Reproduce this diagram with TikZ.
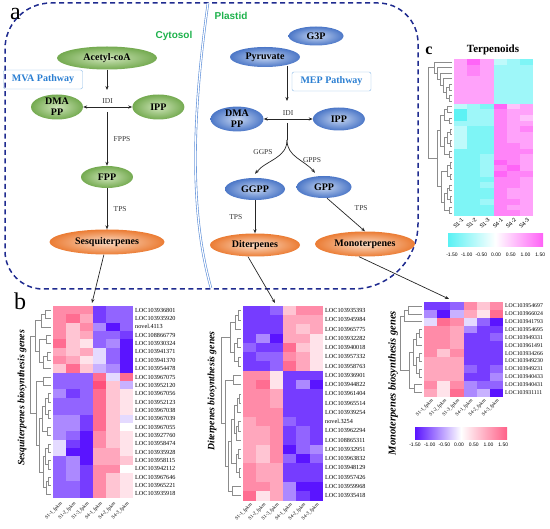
\documentclass[tikz,border=0pt]{standalone}
\usepackage{fontspec}
\setmainfont{Liberation Serif}
\setsansfont{Liberation Sans}
\usetikzlibrary{arrows.meta,positioning,shapes.geometric}

\definecolor{wallblue}{HTML}{1F2B8F}
\definecolor{plastblue}{HTML}{5C8ED8}
\definecolor{compgreen}{HTML}{1DB14B}
\definecolor{pathblue}{HTML}{2B7FD2}
\definecolor{greenout}{HTML}{74AA50}
\definecolor{greenin}{HTML}{CFE5BA}
\definecolor{blueout}{HTML}{4C77C7}
\definecolor{bluein}{HTML}{C6D6F1}
\definecolor{orangeout}{HTML}{EB7C34}
\definecolor{orangein}{HTML}{FBDCC6}
\definecolor{hmlow}{HTML}{5A14FF}
\definecolor{hmhigh}{HTML}{FF4F7B}
\definecolor{tplow}{HTML}{3CEFF2}
\definecolor{tphigh}{HTML}{FF45F5}

% cells: x0, y0, cell width, row height, low colour, high colour, rows (values -6..6)
\newcommand{\heatmap}[7]{%
  \foreach \rowvals [count=\r] in {#7} {
    \foreach \v [count=\c] in \rowvals {
      \pgfmathtruncatemacro{\pct}{abs(\v)*100/6}
      \ifnum\v<0 \def\hmc{#5}\else\def\hmc{#6}\fi
      \fill[\hmc!\pct!white] ({#1+(\c-1)*#3},{#2+(\r-1)*#4}) rectangle ++({#3+0.3},{#4+0.3});
    }
  }}

% tree: leaf x, top y, row height, brackets ya/da/yb/db/dl
\newcommand{\dendro}[4]{%
  \foreach \ya/\da/\yb/\db/\dl in {#4}
    \draw[dendline] ({#1-\da},{#2+\ya*#3}) -- ({#1-\dl},{#2+\ya*#3})
      -- ({#1-\dl},{#2+\yb*#3}) -- ({#1-\db},{#2+\yb*#3});}

% gene names: x, top y, row height, names
\newcommand{\genelabels}[4]{%
  \foreach \g [count=\r] in {#4}
    \node[genelab] at (#1,{#2+(\r-0.5)*#3}) {\g};}

\begin{document}
\begin{tikzpicture}[x=1pt, y=-1pt, >={Stealth[length=4pt,width=3.2pt]},
    metab/.style = {ellipse, inner sep=0pt, align=center, font=\bfseries\fontsize{10}{11}\selectfont},
    mva/.style = {metab, inner color=greenin, outer color=greenout},
    mep/.style = {metab, inner color=bluein, outer color=blueout},
    prod/.style = {metab, inner color=orangein, outer color=orangeout},
    pathbox/.style = {draw=pathblue!55, rounded corners=2pt, fill=white, text=pathblue, inner sep=0pt,
        minimum width=79pt, minimum height=19pt, font=\bfseries\fontsize{10}{12}\selectfont},
    enz/.style = {text=black!80, font=\fontsize{7.5}{8}\selectfont},
    comp/.style = {text=compgreen, font=\sffamily\bfseries\fontsize{10}{12}\selectfont},
    cellwall/.style = {draw=wallblue, line width=1.5pt, dash pattern=on 5pt off 3.5pt},
    plastwall/.style = {draw=plastblue, double=white, double distance=1.2pt, line width=0.6pt},
    conn/.style = {->, black!85, line width=0.7pt},
    dendline/.style = {black!45, line width=0.45pt},
    genelab/.style = {anchor=west, inner sep=0pt, font=\fontsize{6.2}{6.2}\selectfont},
    collab/.style = {anchor=east, rotate=45, inner sep=0pt, font=\fontsize{4.9}{4.9}\selectfont},
    axlab/.style = {rotate=90, font=\bfseries\itshape\fontsize{9.7}{10}\selectfont},
    ticklab/.style = {inner sep=0pt, font=\sffamily\fontsize{5}{5}\selectfont},
    panel/.style = {anchor=base, font=\fontsize{24}{24}\selectfont}]

\useasboundingbox (0,0) rectangle (550,529);

% panel a: cell
\node[pathbox] (mvabox) at (43,79.5) {MVA Pathway};
\draw[cellwall] (5,150) [rounded corners=38pt] -- (5,289) -- (200,289)
    [rounded corners=65pt] -- (418,289) -- (418,150)
    [rounded corners=40pt] -- (418,3) -- (200,3)
    [rounded corners=46pt] -- (5,3) -- (5,150);
\draw[plastwall] (208,3) .. controls (196,90) and (186,200) .. (211,288);
\node[panel] (pa) at (15.5,20) {a};
\node[comp] (cyto) at (174,36) {Cytosol};
\node[comp] (plast) at (231,16) {Plastid};

% MVA side
\node[mva, minimum width=100pt, minimum height=23pt] (acoa) at (107,58) {Acetyl-coA};
\node[mva, minimum width=52pt, minimum height=25pt] (dmapp1) at (57,107) {DMA\\PP};
\node[mva, minimum width=52pt, minimum height=25pt] (ipp1) [right=49pt of dmapp1] {IPP};
\node[mva, minimum width=52pt, minimum height=22pt] (fpp) at (107,177) {FPP};
\node[prod, minimum width=115pt, minimum height=25pt] (sesq) at (107,242) {Sesquiterpenes};
\coordinate (idi1) at (107,90);
\coordinate (fpps1) at (107,112);

\draw[conn] (acoa) -- (idi1);
\draw[conn, <->] (dmapp1) -- node[enz, above] {IDI} (ipp1);
\draw[conn] (fpps1) -- node[enz, right, xshift=3pt] {FPPS} (fpp);
\draw[conn] (fpp) -- node[enz, right, xshift=3pt] {TPS} (sesq);

% MEP side
\node[mep, minimum width=55pt, minimum height=19pt] (g3p) at (316,36) {G3P};
\node[mep, minimum width=70pt, minimum height=20pt] (pyr) at (265,57) {Pyruvate};
\node[pathbox] (mepbox) at (331.5,81.5) {MEP Pathway};
\node[mep, minimum width=53pt, minimum height=24pt] (dmapp2) at (237,119) {DMA\\PP};
\node[mep, minimum width=52pt, minimum height=23pt] (ipp2) [right=49pt of dmapp2] {IPP};
\node[mep, minimum width=60pt, minimum height=22pt] (ggpp) at (255,189) {GGPP};
\node[mep, minimum width=55pt, minimum height=22pt] (gpp) at (324,187) {GPP};
\node[prod, minimum width=90pt, minimum height=23pt] (dite) at (255,245) {Diterpenes};
\node[prod, minimum width=100pt, minimum height=25pt] (mono) at (365,244) {Monoterpenes};
\coordinate (mep0) at (287,66);
\coordinate (mep1) at (287,101);
\coordinate (br0) at (287,123);
\coordinate (br1) at (287,140);

\draw[conn] (mep0) -- (mep1);
\draw[conn, <->] (dmapp2) -- node[enz, above] {IDI} (ipp2);
\draw[black!85, line width=0.7pt] (br0) -- (br1);
\draw[conn] (br1) to[out=-90, in=50] ([yshift=4pt]ggpp.north);
\draw[conn] (br1) to[out=-90, in=130] ([xshift=-9pt, yshift=3pt]gpp.north);
\node[enz] (ggps) at (263,152) {GGPS};
\node[enz] (gpps) at (312,160) {GPPS};
\draw[conn] (ggpp) -- node[enz, left=9pt] {TPS} (dite);
\draw[conn] ([xshift=3pt]gpp.south) -- node[enz, above right, xshift=5pt] {TPS} (mono.north);

% panel b
\node[panel] (pb) at (20,310) {b};
\coordinate (sesqhm) at (92,303);
\coordinate (ditehm) at (275,303);
\coordinate (monohm) at (449,299);
\draw[conn] (sesq) -- (sesqhm);
\draw[conn] ([xshift=-7pt]dite.south) -- (ditehm);
\draw[conn] ([xshift=-6pt]mono.south) -- (monohm);

% sesquiterpenes
\heatmap{53}{306}{13.33}{8.35}{hmlow}{hmhigh}{
  {4,4,4,-5,-4,-4},{4,5,3,-5,-4,-4},{4,2,4,-3,-6,-4},{4,2,3,-4,-4,-5},
  {5,2,1,-4,-3,-6},{3,2,3,-1,-4,-6},{4,3,1,-1,-4,-6},{2,5,2,-2,-3,-6},
  {-4,-4,-4,5,-1,5},{-4,-4,-4,6,2,-2},{-3,-5,-4,5,2,1},{-4,-4,-4,5,2,1},
  {-4,-4,-4,5,2,1},{-3,-3,-5,5,2,-1},{-3,-3,-5,5,2,0},{-3,-4,-6,4,2,1},
  {-1,-5,-6,4,2,1},{-1,-6,-6,3,3,1},{-4,-3,-6,3,3,2},{-4,-3,-5,4,4,0},
  {-4,-3,-5,4,2,1},{-4,-4,-5,4,2,1},{-4,-4,-5,4,2,1}}
\dendro{51}{306}{8.35}{0.5/0/1.5/0/6, 1/6/2.5/0/10, 3.5/0/4.5/0/5, 5.5/0/6.5/0/4,
  6/4/7.5/0/8, 4/5/6.75/8/12, 1.75/10/5.375/12/16, 8.5/0/9.5/0/8, 10.5/0/11.5/0/3,
  12.5/0/13.5/0/3, 11/3/13/3/6, 14.5/0/15.5/0/4, 12/6/15/4/9, 16.5/0/17.5/0/3,
  18.5/0/19.5/0/3, 17/3/19/3/6, 20.5/0/21.5/0/3, 21/3/22.5/0/5, 18/6/21.75/5/8,
  13.5/9/19.875/8/12, 9/8/16.6875/12/15, 3.5625/16/12.84375/15/21}
\genelabels{135}{306}{8.35}{LOC103936801, LOC103935920, novel.4113, LOC108866779,
  LOC103930324, LOC103941371, LOC103941370, LOC103954478, LOC103967075, LOC103952120,
  LOC103967056, LOC103952123, LOC103967038, LOC103967039, LOC103967055, LOC103927760,
  LOC103958474, LOC103935928, LOC103958115, LOC103942112, LOC103967646, LOC103965221,
  LOC103935918}
\foreach \s [count=\i] in {S1-1,S1-2,S1-3,S4-1,S4-2,S4-3}
  \node[collab] at ({53+(\i-0.5)*13.33+2},503) {\s\_fpkm};
\node[axlab] (sesqax) at (22,398) {Sesquiterpenes biosynthesis genes};

% diterpenes
\heatmap{243}{306}{13.33}{9.25}{hmlow}{hmhigh}{
  {-5,-5,-4,2,4,4},{-5,-5,-5,3,3,3},{-5,-5,-5,3,2,3},{-5,-3,-6,3,3,1},
  {-4,-5,-5,5,2,1},{-5,-4,-4,4,3,1},{-5,-5,-4,5,3,1},
  {4,4,1,-5,-5,-5},{4,5,1,-5,-3,-6},{4,4,3,-5,-5,-5},{4,4,3,-5,-5,-5},
  {4,4,4,-5,-5,-5},{3,4,4,-4,-5,-5},{3,3,4,-5,-4,-5},{3,3,4,-5,-4,-5},
  {3,2,4,-6,-4,-3},{3,2,4,-4,-6,-4},{4,3,3,-5,-5,-5},{4,3,3,-5,-5,-5},
  {4,4,3,-3,-6,-6},{5,1,3,-3,-5,-6}}
\dendro{241}{306}{9.25}{0.5/0/1.5/0/3, 1/3/2.5/0/6, 3.5/0/4.5/0/4, 5.5/0/6.5/0/3,
  4/4/6/3/7, 1.75/6/5/7/11, 7.5/0/8.5/0/8, 9.5/0/10.5/0/2, 10/2/11.5/0/4,
  12.5/0/13.5/0/3, 13/3/14.5/0/5, 15.5/0/16.5/0/3, 17.5/0/18.5/0/2, 16/3/18/2/5,
  10.75/4/13.75/5/7, 12.25/7/17/5/10, 19.5/0/20.5/0/9, 14.625/10/20/9/13,
  8/8/17.3125/13/16, 3.375/11/12.65625/16/20}
\genelabels{325}{306}{9.25}{LOC103935393, LOC103945984, LOC103965775, LOC103932282,
  LOC103940018, LOC103957332, LOC103958763, LOC103936901, LOC103944822, LOC103961404,
  LOC103965514, LOC103939254, novel.3254, LOC103962294, LOC108865311, LOC103932951,
  LOC103963832, LOC103948129, LOC103957426, LOC103959968, LOC103935418}
\foreach \s [count=\i] in {S1-1,S1-2,S1-3,S4-1,S4-2,S4-3}
  \node[collab] at ({243+(\i-0.5)*13.33+2},504) {\s\_fpkm};
\node[axlab] (diteax) at (212,391) {Diterpenes biosynthesis genes};

% monoterpenes
\heatmap{424}{302}{13.17}{7.87}{hmlow}{hmhigh}{
  {-5,-5,-4,4,2,4},{-3,-6,-2,3,1,5},{-1,5,4,-1,-4,-6},{4,4,3,-3,-5,-5},
  {4,4,3,-5,-5,-4},{4,4,3,-5,-5,-5},{4,2,4,-5,-5,-5},{3,3,3,-5,-5,-5},
  {3,3,3,-4,-5,-4},{3,3,3,-5,-5,-3},{4,1,4,-3,-4,-4},{3,1,5,-3,-2,-6}}
\dendro{422}{302}{7.87}{0.5/0/1.5/0/14, 1/14/2.5/0/18, 3.5/0/4.5/0/3, 4/3/5.5/0/6,
  6.5/0/7.5/0/3, 8.5/0/9.5/0/3, 7/3/9/3/6, 4.75/6/8/6/9, 10.5/0/11.5/0/8,
  6.375/9/11/8/13, 1.75/18/8.6875/13/22}
\begin{scope}[genelab/.append style={font=\fontsize{5.8}{5.8}\selectfont}]
\genelabels{505}{302}{7.87}{LOC103954697, LOC103966024, LOC103941793, LOC103954695,
  LOC103949331, LOC103961491, LOC103934266, LOC103949230, LOC103949231, LOC103940433,
  LOC103940431, LOC103931111}
\end{scope}
\foreach \s [count=\i] in {S1-1,S1-2,S1-3,S4-1,S4-2,S4-3}
  \node[collab] at ({424+(\i-0.5)*13.17+2},400) {\s\_fpkm};
\node[axlab, font=\bfseries\itshape\fontsize{10.5}{11}\selectfont] (monoax) at (393,383) {Monoterpenes biosynthesis genes};
\shade[left color=hmlow, right color=hmhigh!90, middle color=white] (415,428) rectangle (507,440);
\foreach \t [count=\i from 0] in {-1.50,-1.00,-0.50,0.00,0.50,1.00,1.50}
  \node[ticklab] at ({415+\i*14.7},445) {\t};

% panel c
\node[anchor=base, font=\bfseries\fontsize{16}{16}\selectfont] (pc) at (429,55) {c};
\node[anchor=base, font=\bfseries\fontsize{11}{12}\selectfont] (terptitle) at (493,53) {Terpenoids};
\heatmap{454}{59}{13.17}{5.6}{tplow}{tphigh}{
  {3,5,3,-2,-3,-4},{3,4,3,-3,-3,-3},{3,4,3,-3,-3,-3},{3,3,3,-3,-3,-3},
  {3,3,3,-3,-3,-3},{3,3,3,-3,-3,-3},{3,3,3,-3,-3,-3},{3,3,3,-3,-3,-3},
  {-2,-3,-4,5,2,3},{-5,-3,-3,4,3,3},{-5,-3,-3,4,3,2},{-3,-3,-3,4,3,3},
  {-2,-4,-4,4,3,4},{-2,-4,-4,4,3,3},{-2,-4,-4,4,3,3},{-2,-4,-4,4,4,3},
  {-4,-4,-4,4,4,4},{-4,-4,-3,4,4,3},{-4,-4,-3,5,4,3},{-4,-4,-3,4,5,3},
  {-4,-4,-3,5,4,4},{-4,-4,-4,4,4,3},{-4,-4,-3,4,4,3},{-4,-4,-4,4,3,3},
  {-4,-4,-4,4,3,3},{-4,-4,-3,4,4,3},{-4,-4,-4,4,3,3},{-4,-4,-4,4,4,3}}
\dendro{452}{59}{5.6}{6.5/0/7.5/0/3, 4.5/0/5.5/0/3, 5/3/7/3/6, 3.5/0/6/6/9,
  2.5/0/4.75/9/12, 1.5/0/3.625/12/15, 0.5/0/2.5625/15/18, 8.5/0/9.5/0/5,
  10.5/0/11.5/0/3, 9/5/11/3/8, 12.5/0/13.5/0/2, 14.5/0/15.5/0/2, 13/2/15/2/5,
  16.5/0/17.5/0/3, 14/5/17/3/8, 10/8/15.5/8/12, 18.5/0/19.5/0/2, 20.5/0/21.5/0/2,
  19/2/21/2/5, 22.5/0/23.5/0/3, 24.5/0/25.5/0/2, 23/3/25/2/5, 26.5/0/27.5/0/3,
  24/5/27/3/8, 20/5/25.5/8/11, 12.75/12/22.75/11/15, 1.53125/18/17.75/15/24}
\foreach \s [count=\i] in {S1-1,S1-2,S1-3,S4-1,S4-2,S4-3}
  \node[collab, font=\sffamily\fontsize{5.5}{5.5}\selectfont] at ({454+(\i-0.5)*13.17+2},219) {\s};
\shade[left color=tplow!85, right color=tphigh!85, middle color=white] (448,234) rectangle (543,247);
\foreach \t [count=\i from 0] in {-1.50,-1.00,-0.50,0.00,0.50,1.00,1.50}
  \node[ticklab] at ({452+\i*14.7},255) {\t};
\end{tikzpicture}
\end{document}
